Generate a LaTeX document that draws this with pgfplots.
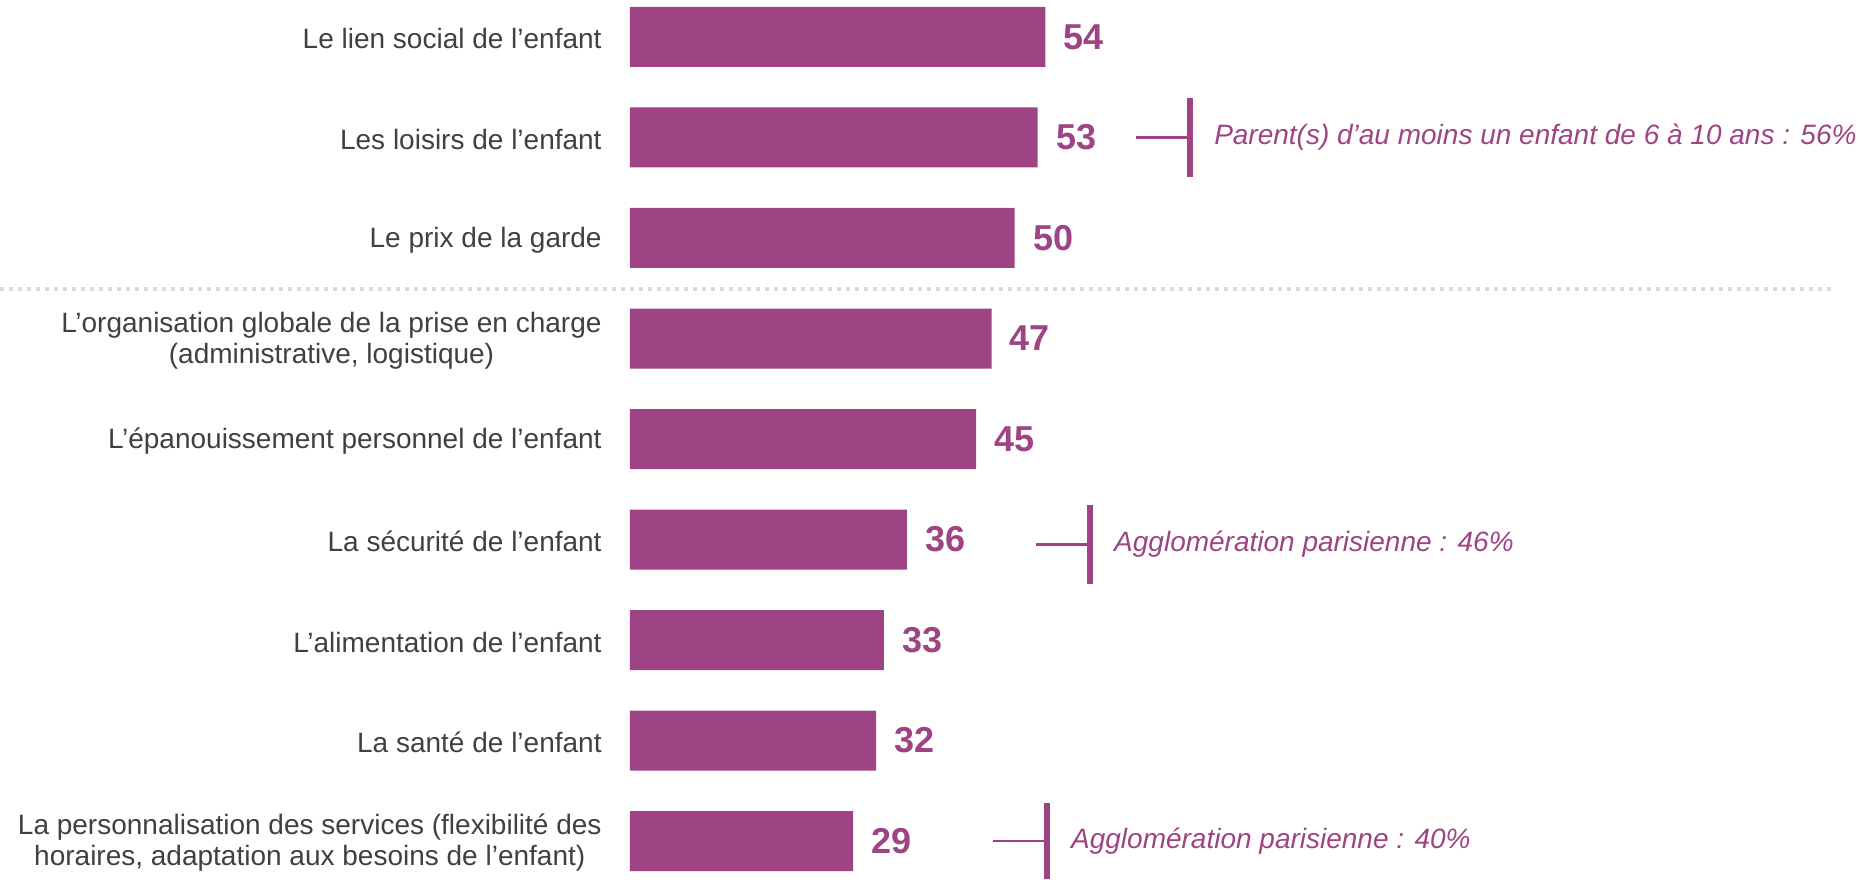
\documentclass[border=0pt]{standalone}
\usepackage{pgfplots}
\pgfplotsset{compat=1.18}
\usepackage{fontspec}
\setmainfont{Liberation Sans}
\definecolor{barpurple}{HTML}{9E4384}
\definecolor{labelgrey}{HTML}{404040}
\definecolor{dotgrey}{HTML}{D9D9D9}
\begin{document}
\begin{tikzpicture}
\begin{axis}[
  xbar, scale only axis, width=620pt, height=439.5pt,
  xmin=0, xmax=161.2, ymin=-0.368, ymax=8.378, y dir=reverse,
  bar width=30pt,
  axis x line=none,
  axis y line*=left,
  y axis line style={draw=none},
  ytick={0,...,8},
  yticklabels={
    {Le lien social de l’enfant},
    {Les loisirs de l’enfant},
    {Le prix de la garde},
    {L’organisation globale de la prise en charge\\(administrative, logistique)},
    {L’épanouissement personnel de l’enfant},
    {La sécurité de l’enfant},
    {L’alimentation de l’enfant},
    {La santé de l’enfant},
    {La personnalisation des services (flexibilité des\\horaires, adaptation aux besoins de l’enfant)}
  },
  major tick length=0pt,
  yticklabel style={font=\fontsize{14}{15.5}\selectfont, text=labelgrey, align=center, inner sep=0pt, xshift=-14pt, yshift=-1pt},
  clip=false,
  nodes near coords,
  nodes near coords style={font=\bfseries\fontsize{18}{18}\selectfont, text=barpurple, anchor=west, inner sep=0pt, xshift=9pt, /pgf/number format/assume math mode=true},
]
\addplot[fill=barpurple, draw=none] coordinates {(54,0) (53,1) (50,2) (47,3) (45,4) (36,5) (33,6) (32,7) (29,8)};

\draw[dotgrey, line width=2pt, dash pattern=on 2pt off 2.5pt] (axis cs:-81.9,2.507) -- (axis cs:156.2,2.507);

\draw[barpurple, line width=1.2pt] (axis cs:65.8,1) -- (axis cs:72.8,1);
\draw[barpurple, line width=3pt] (axis cs:72.8,0.61) -- (axis cs:72.8,1.39);
\node[anchor=west, text=barpurple, font=\itshape\fontsize{14}{16}\selectfont, inner sep=0pt] at (axis cs:75.9,1) {Parent(s) d’au moins un enfant de 6 à 10 ans : 56\%};

\draw[barpurple, line width=1.2pt] (axis cs:52.8,5.05) -- (axis cs:59.8,5.05);
\draw[barpurple, line width=3pt] (axis cs:59.8,4.66) -- (axis cs:59.8,5.44);
\node[anchor=west, text=barpurple, font=\itshape\fontsize{14}{16}\selectfont, inner sep=0pt] at (axis cs:62.9,5.05) {Agglomération parisienne : 46\%};

\draw[barpurple, line width=1.2pt] (axis cs:47.2,8) -- (axis cs:54.2,8);
\draw[barpurple, line width=3pt] (axis cs:54.2,7.62) -- (axis cs:54.2,8.378);
\node[anchor=west, text=barpurple, font=\itshape\fontsize{14}{16}\selectfont, inner sep=0pt] at (axis cs:57.3,8) {Agglomération parisienne : 40\%};

\coordinate (bbl) at (axis cs:-81.9,8.378);
\coordinate (btr) at (axis cs:161.2,-0.368);
\end{axis}
\pgfresetboundingbox
\path[use as bounding box] (bbl) rectangle (btr);
\end{tikzpicture}
\end{document}
